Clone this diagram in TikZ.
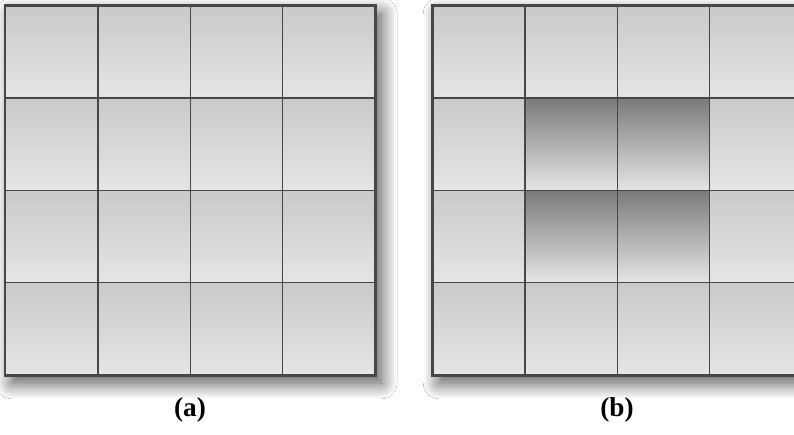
\documentclass[tikz,border=0pt]{standalone}
\usepackage{fontspec}
\setmainfont{Liberation Serif}
\usetikzlibrary{shadows.blur}

\tikzset{
  cell/.style={draw=black!72, line width=0.85pt, minimum size=1.846cm,
               inner sep=0pt, anchor=north west,
               top color=black!21, bottom color=black!10},
  darkcell/.style={cell, top color=black!52, bottom color=black!10},
  panel/.style={fill=white, blur shadow={shadow xshift=4pt, shadow yshift=-5pt,
               shadow blur radius=9pt, shadow blur steps=16, shadow opacity=70}},
  caption/.style={font=\fontsize{15.5}{18}\selectfont\bfseries}
}

\begin{document}
\begin{tikzpicture}[x=0.02cm, y=-0.02cm]
  \clip (0,0) rectangle (794,434);
  \fill[white] (0,0) rectangle (794,434);

  % Grid (a)
  \path[panel] (5,5) rectangle (374.2,374.2);
  \foreach \r in {0,...,3}
    \foreach \c in {0,...,3}
      \node[cell] (a\r\c) at ({5+92.3*\c},{5+92.3*\r}) {};
  \draw[black!72, line width=1pt] (a00.north west) rectangle (a33.south east);

  % Grid (b)
  \path[panel] (432,5) rectangle (801.2,374.2);
  \foreach \r in {0,...,3}
    \foreach \c in {0,...,3}
      \node[cell] (b\r\c) at ({432+92.3*\c},{5+92.3*\r}) {};
  \foreach \r/\c in {1/1,1/2,2/1,2/2}
    \node[darkcell] at (b\r\c.north west) {};
  \draw[black!72, line width=1pt] (b00.north west) rectangle (b33.south east);

  % Captions
  \node[caption] (capa) at (190,410) {(a)};
  \node[caption] (capb) at (617,410) {(b)};
\end{tikzpicture}
\end{document}
